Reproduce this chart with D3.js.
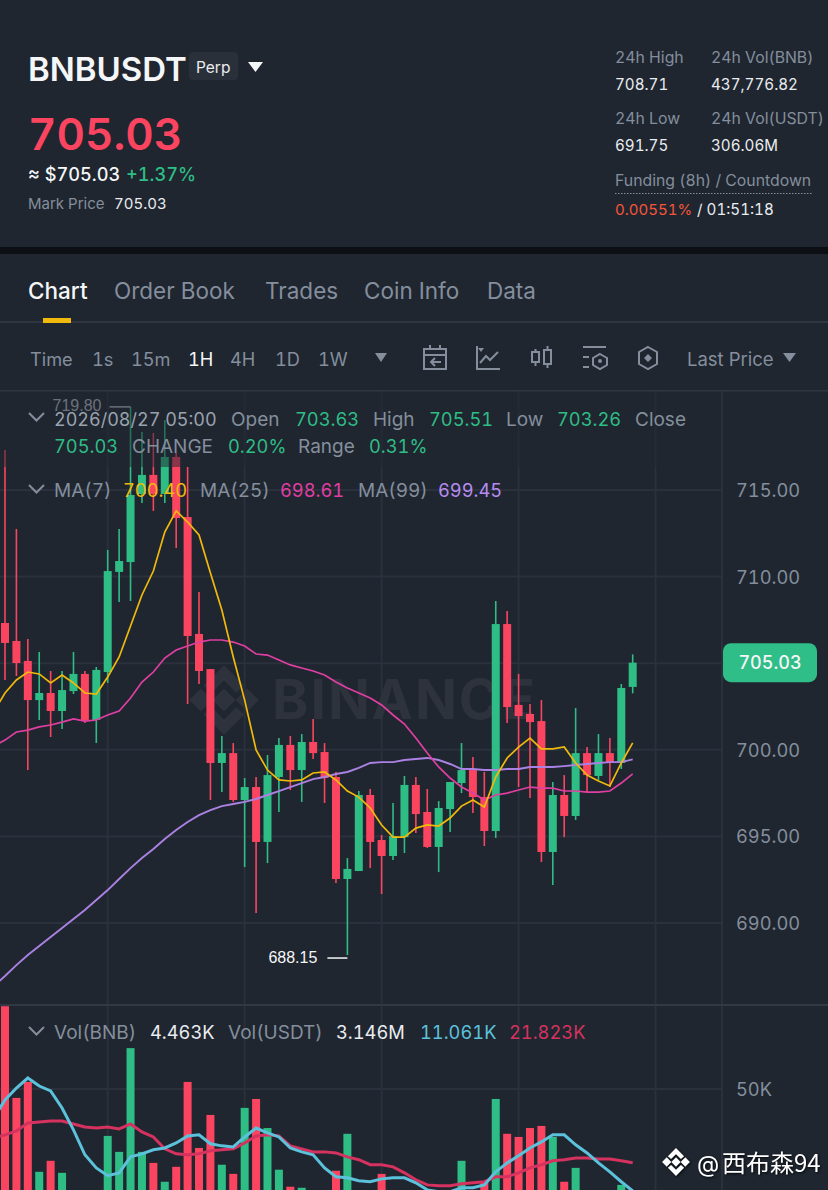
<!DOCTYPE html>
<html>
<head>
<meta charset="utf-8">
<script src="https://cdn.jsdelivr.net/npm/d3@7"></script>
<style>
  html, body { margin: 0; padding: 0; background: #1f2630; }
  svg { display: block; }
  text { font-family: Inter, "Open Sans", sans-serif; font-variant-numeric: tabular-nums; }
</style>
</head>
<body>
<svg id="chart" width="828" height="1190"></svg>
<script>
const opens = [707.32,706.28,705.13,702.87,703.28,702.24,703.39,704.38,701.72,704.49,710.27,710.84,714.77,715.87,714.77,716.91,713.44,706.69,704.66,699.24,699.81,697.10,697.85,694.68,698.43,700.28,698.83,700.45,699.87,698.43,692.54,693.00,697.39,694.79,693.87,694.96,697.97,696.41,694.39,696.58,698.08,698.83,697.27,695.31,707.26,702.59,702.07,701.66,694.10,697.39,696.18,699.81,698.49,699.81,699.24,703.63];
const highs = [717.31,712.75,706.40,705.65,704.55,704.55,705.65,704.55,704.78,711.54,712.75,719.80,718.35,718.29,719.04,717.14,716.33,709.11,704.66,700.80,700.39,698.37,698.43,699.70,700.68,700.80,700.91,701.78,700.39,698.72,693.75,697.62,697.74,695.08,696.93,698.49,698.43,697.74,697.04,698.14,700.39,699.58,698.72,708.59,708.01,704.38,702.64,702.87,698.14,698.54,702.41,700.16,700.91,700.68,703.80,705.51];
const lows = [704.03,704.26,698.83,701.72,700.74,701.20,703.22,701.55,700.39,703.86,708.53,708.59,714.25,713.79,714.25,711.65,702.64,703.80,697.10,697.56,696.99,693.23,690.58,693.46,696.41,697.68,696.99,699.47,696.93,692.31,688.15,693.00,693.17,691.67,693.64,694.04,695.20,694.33,692.94,695.25,697.50,696.35,694.44,694.91,701.55,697.85,697.22,693.52,692.19,694.96,695.95,697.56,698.26,697.85,698.89,703.26];
const closes = [706.17,705.01,702.87,703.28,702.24,703.45,704.38,701.72,704.61,710.32,710.90,714.71,715.87,714.77,716.91,713.38,706.57,704.55,699.24,699.81,697.10,697.85,694.68,698.54,700.28,698.83,700.45,699.81,698.37,692.54,693.12,697.39,694.68,693.87,695.02,697.97,696.29,694.39,696.64,698.14,698.83,697.27,695.31,707.26,702.47,701.95,701.60,694.10,697.39,696.18,699.81,698.54,699.81,699.24,703.57,705.03];
const volumes = [81.6,46.6,52.7,18.4,22.6,18.0,9,10,11,32.1,26.0,65.6,26.0,21.8,14.6,20.3,52.7,27.5,40.1,21.1,17.6,42.8,46.2,35.1,19.2,12.7,12.3,10,9,18.8,32.9,9,8,17.6,7,8,6,7,8,7,22.6,9,14.6,46.2,32.9,31.7,35.1,35.9,31.7,14.6,19.9,9,8,7,13.4,4.463];

// moving averages, first value belongs to the bar just off the left edge
const ma7 = [702.18,703.28,704.03,704.49,704.38,703.86,704.32,703.86,703.28,703.22,704.20,705.36,707.15,708.94,710.32,712.57,713.79,713.15,712.40,710.21,708.07,705.36,702.87,699.99,698.83,698.26,698.20,698.26,698.66,698.72,698.26,697.62,697.27,696.64,695.66,694.96,694.96,695.48,695.66,695.60,696.06,696.75,697.10,696.70,698.43,699.53,700.16,700.68,700.05,700.05,700.16,699.24,698.54,698.20,697.91,699.24,700.40];
const ma25 = [700.22,700.56,701.03,701.14,701.32,701.43,701.60,701.78,701.66,701.72,702.01,702.24,702.99,703.91,704.49,705.30,705.76,705.99,706.22,706.34,706.34,706.22,705.99,705.53,705.47,705.18,704.90,704.72,704.55,704.32,703.91,703.57,703.28,702.99,702.59,702.01,701.49,700.68,699.81,699.01,698.37,697.85,697.50,697.10,697.39,697.50,697.68,697.85,697.79,697.79,697.62,697.62,697.56,697.56,697.62,698.08,698.61];
const ma99 = [686.36,686.94,687.57,688.15,688.67,689.19,689.71,690.23,690.75,691.33,691.90,692.54,693.17,693.75,694.27,694.85,695.37,695.83,696.23,696.52,696.75,696.87,696.99,697.16,697.39,697.62,697.85,698.08,698.31,698.43,698.60,698.72,698.95,699.24,699.29,699.29,699.41,699.47,699.53,699.41,699.18,698.89,698.89,698.83,698.83,698.89,698.89,699.01,699.01,699.01,699.06,699.12,699.18,699.24,699.29,699.29,699.45];
const volMaFast = [38.96,45.81,50.38,54.19,51.14,49.24,42.76,34.4,24.9,19.9,16.9,18.0,24.1,25.25,26.8,27.5,29.4,32.1,32.5,29.1,28.3,27.9,31.7,35.1,33.25,31.7,27.5,26.0,24.9,19.9,16.5,16.1,15.0,14.6,15.7,16.1,16.1,14.2,11.5,10.8,10.8,12.3,12.3,13.4,18.4,21.8,24.5,27.5,29.8,32.5,32.5,28.7,25.6,21.8,18.4,14.6,11.061];
const volMaSlow = [31.34,32.5,34.0,37.05,37.43,37.81,37.81,36.67,35.53,35.1,35.53,34.77,36.67,33.63,31.7,27.15,25.25,24.9,25.25,26.4,26.8,27.15,29.4,32.1,32.5,32.1,28.3,27.15,26.0,26.0,25.6,24.1,23.0,21.1,21.1,20.3,18.0,15.35,13.4,13.1,13.1,13.8,14.2,14.6,16.5,16.5,18.0,19.9,21.1,22.6,23.0,23.7,23.7,23.3,23.3,22.6,21.823];

const priceTicks = [715, 710, 705, 700, 695, 690];
const volumeTicks = [50];
const gridBars = [9, 21, 33, 45, 57];
const intervals = ['Time', '1s', '15m', '1H', '4H', '1D', '1W'];
const tabs = ['Chart', 'Order Book', 'Trades', 'Coin Info', 'Data'];

const GREEN = '#2ebd85', RED = '#fb4560', GREY = '#848e9c', WHITE = '#eaecef';
const BG = '#1f2630', GRID = '#2a313c';

const svg = d3.select('#chart');
svg.append('rect').attr('width', 828).attr('height', 1190).attr('fill', BG);

const x = d3.scaleLinear().domain([0, 55]).range([5, 632.7]);
const y = d3.scaleLinear().domain([715, 690]).range([490, 923]);
const yVol = d3.scaleLinear().domain([50, 0]).range([1089, 1220]);

function label(parent, px, py, str, color, size, weight) {
  return parent.append('text').attr('x', px).attr('y', py).text(str)
    .attr('fill', color).attr('font-size', size).attr('font-weight', weight || 400);
}

// header
const head = svg.append('g');
label(head, 28, 81, 'BNBUSDT', '#f5f6f7', 33, 600);
head.append('rect').attr('x', 189).attr('y', 52).attr('width', 49).attr('height', 28).attr('rx', 4).attr('fill', '#2a3039');
label(head, 196, 73, 'Perp', WHITE, 15.5);
head.append('path').attr('d', 'M248 62h15l-7.5 10z').attr('fill', '#f5f6f7');
label(head, 28, 150, '705.03', RED, 44, 600);
label(head, 28, 181, '≈ $705.03', '#f5f6f7', 18.2, 500);
label(head, 126, 181, '+1.37%', GREEN, 18.2, 500);
label(head, 28, 209, 'Mark Price', GREY, 15);
label(head, 114, 209, '705.03', WHITE, 15);
label(head, 615, 63, '24h High', GREY, 15.8);
label(head, 711, 63, '24h Vol(BNB)', GREY, 15.8);
label(head, 615, 90, '708.71', WHITE, 15.2);
label(head, 711, 90, '437,776.82', WHITE, 15.2);
label(head, 615, 124, '24h Low', GREY, 15.8);
label(head, 711, 124, '24h Vol(USDT)', GREY, 15.8);
label(head, 615, 151, '691.75', WHITE, 15.2);
label(head, 711, 151, '306.06M', WHITE, 15.2);
label(head, 615, 186, 'Funding (8h) / Countdown', GREY, 15.8);
head.append('line').attr('x1', 615).attr('x2', 812).attr('y1', 193.5).attr('y2', 193.5)
  .attr('stroke', GREY).attr('stroke-width', 1).attr('stroke-dasharray', '1.5 1.5');
label(head, 615, 215, '0.00551%', '#f6553a', 15);
label(head, 697, 215, '/ 01:51:18', WHITE, 15.2);
svg.append('rect').attr('y', 247).attr('width', 828).attr('height', 7).attr('fill', '#0c1014');

// tabs
const tabX = [28, 114, 265, 364, 487];
tabs.forEach((t, i) => label(svg, tabX[i], 299, t, i === 0 ? '#f5f6f7' : GREY, 22.5, i === 0 ? 500 : 400));
svg.append('rect').attr('y', 321).attr('width', 828).attr('height', 2).attr('fill', '#2f3641');
svg.append('rect').attr('x', 43).attr('y', 318).attr('width', 28).attr('height', 5).attr('fill', '#f0b90b');

// interval row
const intervalX = [30, 92, 131, 188, 230, 275, 318];
intervals.forEach((t, i) => label(svg, intervalX[i], 366, t, t === '1H' ? '#f5f6f7' : GREY, 18.2));
svg.append('path').attr('d', 'M375 353h12l-6 9z').attr('fill', GREY);
label(svg, 687, 366, 'Last Price', GREY, 18.5);
svg.append('path').attr('d', 'M783 353h13l-6.5 9z').attr('fill', GREY);

const icons = svg.append('g').attr('fill', 'none').attr('stroke', GREY).attr('stroke-width', 2);
icons.append('path').attr('d', 'M424 349h22v20h-22zM424 355h22M430 345v5M440 345v5M441 362h-10M435 358l-4 4 4 4');
icons.append('path').attr('d', 'M477 346v23h23M480 363l6-7 4 4 8-8');
icons.append('path').attr('d', 'M478 348h6l-3 4z').attr('fill', GREY).attr('stroke', 'none');
icons.append('path').attr('d', 'M532 352h7v10h-7zM544 350h7v14h-7zM535.500 349v3M535.500 362v4M547.500 346v4M547.500 364v4');
icons.append('path').attr('d', 'M583 347h23M583 357h6M583 367h6M600 354l7 4v7l-7 4-7-4v-7z');
icons.append('circle').attr('cx', 600).attr('cy', 361).attr('r', 2).attr('fill', GREY).attr('stroke', 'none');
icons.append('path').attr('d', 'M648 347l9 5v12l-9 5-9-5v-12z');
icons.append('path').attr('d', 'M648 354l4 4-4 4-4-4z').attr('fill', GREY).attr('stroke', 'none');
svg.append('rect').attr('y', 390).attr('width', 828).attr('height', 1.5).attr('fill', '#2f3641');

// grid and axes
const grid = svg.append('g').attr('stroke', GRID).attr('stroke-width', 2);
grid.selectAll('.gv').data(gridBars).enter().append('line')
  .attr('x1', d => x(d)).attr('x2', d => x(d)).attr('y1', 391).attr('y2', 1190);
grid.selectAll('.gh').data(priceTicks).enter().append('line')
  .attr('x1', 0).attr('x2', 722).attr('y1', d => y(d)).attr('y2', d => y(d));
grid.selectAll('.gvol').data(volumeTicks).enter().append('line')
  .attr('x1', 0).attr('x2', 722).attr('y1', d => yVol(d)).attr('y2', d => yVol(d));
svg.append('rect').attr('x', 721).attr('y', 391).attr('width', 2).attr('height', 799).attr('fill', '#2a313c');
svg.append('rect').attr('y', 1004).attr('width', 828).attr('height', 2).attr('fill', '#323943');

// watermark
function logo(parent, cx, cy, s, fill) {
  const g = parent.append('g').attr('transform', `translate(${cx},${cy}) scale(${s})`).attr('fill', fill);
  g.append('path').attr('d', 'M0 -8L8 0L0 8L-8 0Z');
  g.append('path').attr('d', 'M-16 -8L-8 0L-16 8L-24 0Z');
  g.append('path').attr('d', 'M16 -8L24 0L16 8L8 0Z');
  g.append('path').attr('d', 'M0 -24L14 -10L8.500 -5L0 -13.500L-8.500 -5L-14 -10Z');
  g.append('path').attr('d', 'M0 24L14 10L8.500 5L0 13.500L-8.500 5L-14 10Z');
  return g;
}
logo(svg, 224, 700, 1.45, '#2e323c');
label(svg, 272, 719, 'BINANCE', '#2e323c', 55, 700).attr('textLength', 263).attr('lengthAdjust', 'spacing');

const plot = svg.append('g');

// volume bars
const barW = 8;
plot.selectAll('.vol').data(volumes).enter().append('rect')
  .attr('x', (d, i) => x(i) - barW / 2).attr('width', barW)
  .attr('y', d => yVol(d)).attr('height', d => yVol(0) - yVol(d))
  .attr('fill', (d, i) => closes[i] >= opens[i] ? GREEN : RED);

// candles
const candle = plot.selectAll('.candle').data(closes).enter().append('g')
  .attr('fill', (d, i) => d >= opens[i] ? GREEN : RED)
  .attr('stroke', (d, i) => d >= opens[i] ? GREEN : RED);
candle.append('line')
  .attr('x1', (d, i) => x(i)).attr('x2', (d, i) => x(i))
  .attr('y1', (d, i) => y(highs[i])).attr('y2', (d, i) => y(lows[i]))
  .attr('stroke-width', 1.6);
candle.append('rect')
  .attr('x', (d, i) => x(i) - barW / 2).attr('width', barW)
  .attr('y', (d, i) => y(Math.max(d, opens[i])))
  .attr('height', (d, i) => Math.abs(y(d) - y(opens[i])))
  .attr('stroke', 'none');

const line = scale => d3.line().x((d, i) => x(i - 1)).y(d => scale(d));
[[ma99, '#ab82e3', 1.9], [ma25, '#e03fa2', 1.7], [ma7, '#f0b90b', 1.7]].forEach(s => {
  plot.append('path').attr('d', line(y)(s[0])).attr('fill', 'none').attr('stroke', s[1]).attr('stroke-width', s[2]);
});
[[volMaSlow, '#d5325f', 3], [volMaFast, '#5cc1da', 3]].forEach(s => {
  plot.append('path').attr('d', line(yVol)(s[0])).attr('fill', 'none').attr('stroke', s[1]).attr('stroke-width', s[2]);
});

// high and low markers
const extra = svg.append('g').attr('font-size', 16);
const hiIdx = d3.maxIndex(highs), loIdx = d3.minIndex(lows);
label(extra, x(hiIdx) - 78, y(highs[hiIdx]) + 4, d3.format('.2f')(highs[hiIdx]), '#b7bdc6', 16)
  .style('font-family', '"Liberation Sans", Arial, sans-serif');
extra.append('line').attr('x1', x(hiIdx) - 21).attr('x2', x(hiIdx)).attr('y1', y(highs[hiIdx])).attr('y2', y(highs[hiIdx])).attr('stroke', '#b7bdc6').attr('stroke-width', 1.5);
label(extra, x(loIdx) - 79, y(lows[loIdx]) + 8, d3.format('.2f')(lows[loIdx]), '#f5f6f7', 16)
  .style('font-family', '"Liberation Sans", Arial, sans-serif');
extra.append('line').attr('x1', x(loIdx) - 20).attr('x2', x(loIdx)).attr('y1', y(lows[loIdx]) + 3).attr('y2', y(lows[loIdx]) + 3).attr('stroke', '#f5f6f7').attr('stroke-width', 1.5);

// the legend sits on a translucent band that dims the candles under it
svg.append('rect').attr('y', 392).attr('width', 720).attr('height', 75).attr('fill', BG).attr('opacity', 0.5);

function chevron(py) {
  svg.append('path').attr('d', `M29 ${py}l7.500 7.500 7.500-7.500`).attr('fill', 'none').attr('stroke', GREY).attr('stroke-width', 2);
}
chevron(413);
label(svg, 54, 426, '2026/08/27 05:00', '#9aa2ae', 18);
label(svg, 231, 426, 'Open', GREY, 19);
label(svg, 295, 426, '703.63', GREEN, 18.3);
label(svg, 373, 426, 'High', GREY, 19);
label(svg, 429, 426, '705.51', GREEN, 18.3);
label(svg, 506, 426, 'Low', GREY, 19);
label(svg, 557, 426, '703.26', GREEN, 18.3);
label(svg, 635, 426, 'Close', GREY, 19);
label(svg, 54, 453, '705.03', GREEN, 18.3);
label(svg, 132, 453, 'CHANGE', GREY, 19);
label(svg, 228, 453, '0.20%', GREEN, 18.3);
label(svg, 298, 453, 'Range', GREY, 19);
label(svg, 369, 453, '0.31%', GREEN, 18.3);
chevron(485);
label(svg, 54, 497, 'MA(7)', GREY, 19);
label(svg, 123, 497, '700.40', '#f0b90b', 18.3);
label(svg, 200, 497, 'MA(25)', GREY, 19);
label(svg, 280, 497, '698.61', '#e03fa2', 18.3);
label(svg, 358, 497, 'MA(99)', GREY, 19);
label(svg, 438, 497, '699.45', '#b78cf0', 18.3);
chevron(1027);
label(svg, 54, 1039, 'Vol(BNB)', GREY, 19);
label(svg, 150, 1039, '4.463K', WHITE, 18.3);
label(svg, 228, 1039, 'Vol(USDT)', GREY, 19);
label(svg, 336, 1039, '3.146M', WHITE, 18.3);
label(svg, 420, 1039, '11.061K', '#5cc1da', 18.3);
label(svg, 509, 1039, '21.823K', '#d5325f', 18.3);

// value axes on the right, the 705 label is covered by the last price badge
const priceLabels = priceTicks.filter(d => d !== 705);
const priceAxis = d3.axisRight(y).tickValues(priceLabels).tickFormat(d3.format('.2f')).tickSize(0).tickPadding(14);
const volAxis = d3.axisRight(yVol).tickValues(volumeTicks).tickFormat(d => d + 'K').tickSize(0).tickPadding(14);
[priceAxis, volAxis].forEach(a => {
  const g = svg.append('g').attr('transform', 'translate(722,0)').call(a);
  g.select('.domain').remove();
  g.selectAll('text').attr('fill', GREY).attr('font-size', 18.3).attr('dy', '0.35em')
    .style('font-family', 'Inter, sans-serif');
});

// last price badge
const last = closes[closes.length - 1];
svg.append('rect').attr('x', 723).attr('y', y(last) - 19.500).attr('width', 94).attr('height', 39).attr('rx', 8).attr('fill', '#2fbe87');
label(svg, 770, y(last) + 6.500, d3.format('.2f')(last), '#f5f6f7', 18, 500).attr('text-anchor', 'middle');

// poster mark
const mark = svg.append('g').style('filter', 'drop-shadow(1px 1px 1px rgba(0,0,0,0.8))');
logo(mark, 676, 1162, 0.58, '#ffffff');
label(mark, 697, 1172, '@', '#ffffff', 23);
label(mark, 722, 1172, '西布森94', '#ffffff', 24).style('font-family', '"Noto Sans CJK SC", sans-serif');
</script>
</body>
</html>
